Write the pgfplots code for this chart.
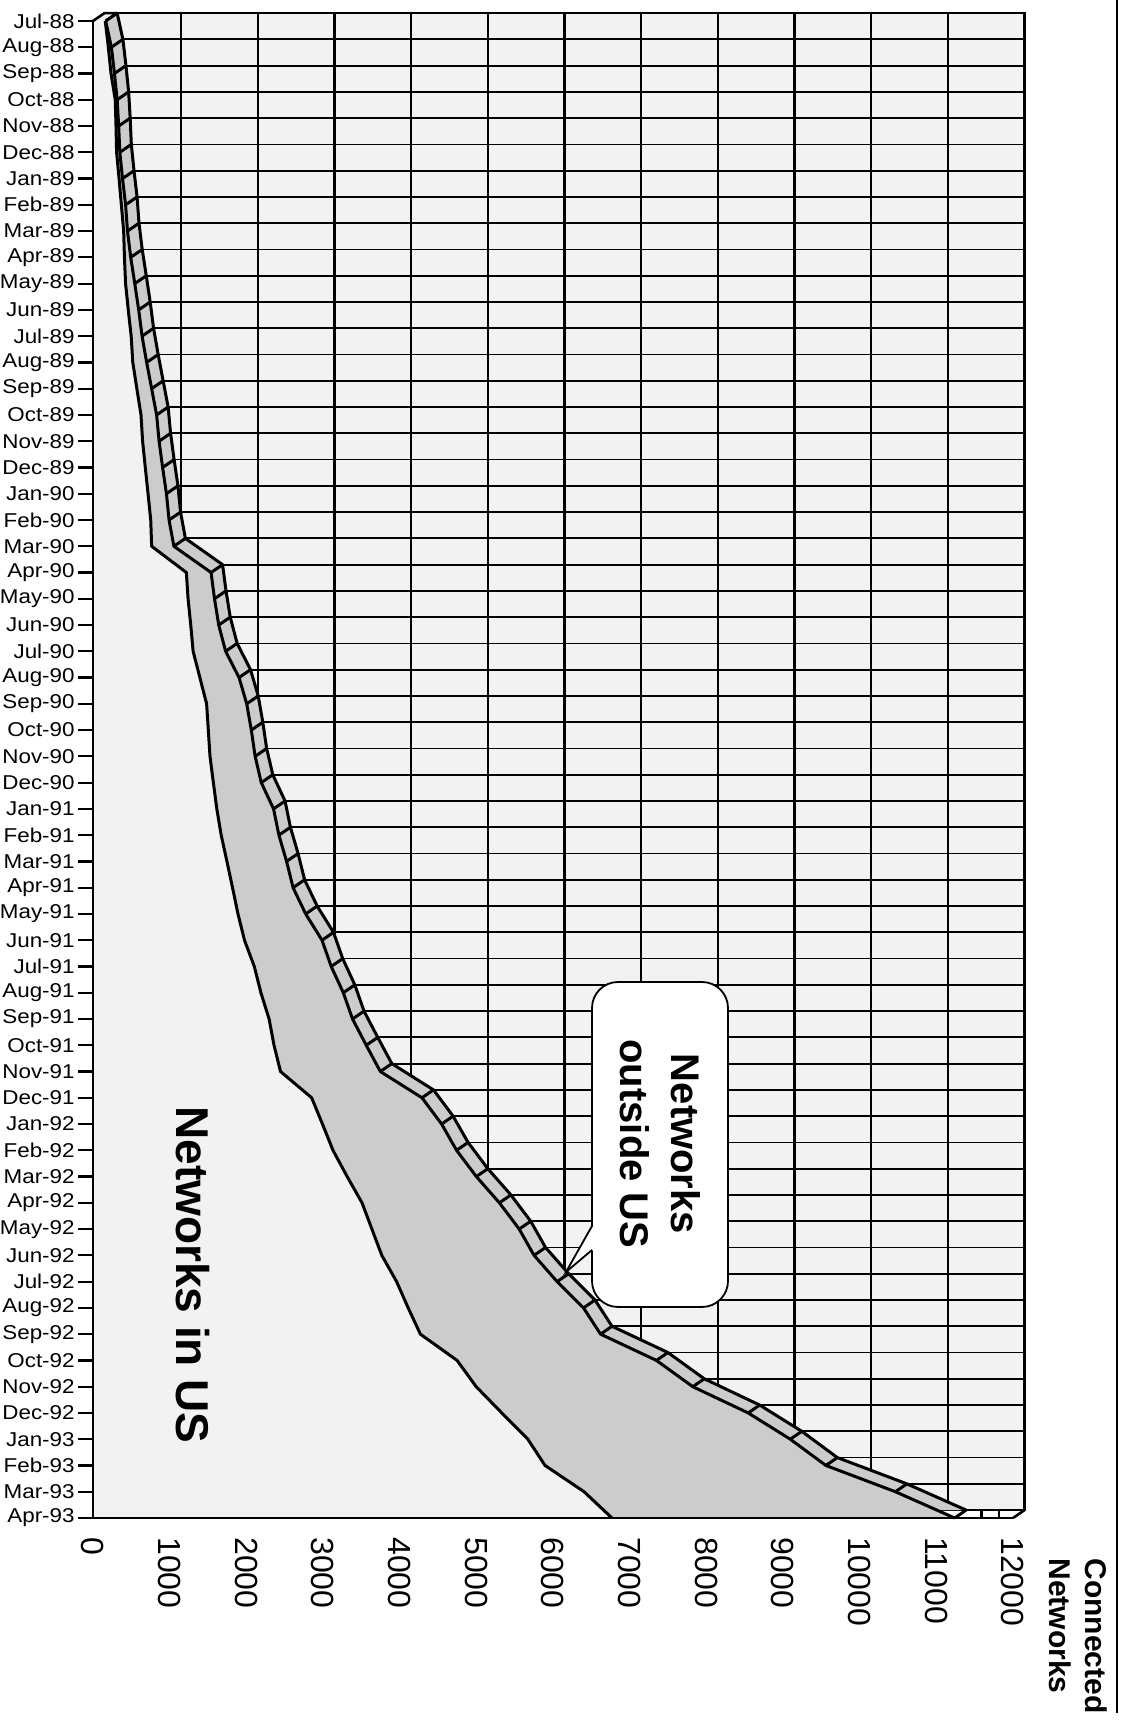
\documentclass[border=0pt]{standalone}
\usepackage{fontspec}
\setmainfont{Liberation Sans}
\usepackage{pgfplots}
\pgfplotsset{compat=1.18}
\usepackage{pgfplotstable}

\definecolor{wall}{HTML}{F2F2F2}
\definecolor{mid}{HTML}{CCCCCC}

% month index (0 = Jul-88), networks in US, networks outside US
\pgfplotstableread{
m us out
0 160 5
1 200 40
2 235 45
3 290 25
4 300 35
5 308 42
6 340 45
7 370 55
8 400 50
9 410 82
10 425 120
11 460 136
12 498 142
13 519 181
14 572 193
15 626 204
16 647 215
17 682 226
18 718 240
19 753 239
20 765 290
21 1218 322
22 1240 345
23 1275 365
24 1306 424
25 1394 511
26 1482 523
27 1504 561
28 1526 589
29 1570 625
30 1615 740
31 1672 753
32 1747 778
33 1820 790
34 1891 883
35 1976 1011
36 2104 1003
37 2190 1075
38 2297 1088
39 2361 1203
40 2446 1302
41 2852 1439
42 2993 1554
43 3130 1612
44 3315 1685
45 3509 1792
46 3638 1921
47 3767 1986
48 3960 2094
49 4111 2287
50 4270 2350
51 4749 2600
52 4998 2825
53 5332 3214
54 5672 3423
55 5896 3663
56 6405 4061
57 6769 4470
}\nets

\newcommand{\yl}[1]{\scalebox{1.12}[1]{#1}}
\tikzset{back/.style={xshift=5.75pt,yshift=3.94pt}}

\begin{document}
\begin{tikzpicture}
\begin{axis}[
  at={(0,0)}, anchor=south west,
  scale only axis, width=460pt, height=748.5pt,
  xmin=0, xmax=12000, ymin=-57, ymax=0,
  clip=false, axis on top,
  axis x line*=bottom, axis y line*=left,
  axis line style={line width=1.4pt},
  tick align=outside, major tick length=7.5pt,
  xtick={0,1000,...,12000}, xtick style={draw=none},
  scaled x ticks=false,
  /pgf/number format/1000 sep={},
  /pgf/number format/assume math mode=true,
  xticklabel style={font=\fontsize{16}{19}\selectfont, rotate=-90, anchor=west, inner sep=2pt},
  ytick={0,-1,...,-57}, ytick style={line width=1.1pt, black},
  yticklabel style={font=\fontsize{10}{11}\selectfont, inner sep=1.5pt},
  yticklabels={\yl{Jul-88},\yl{Aug-88},\yl{Sep-88},\yl{Oct-88},\yl{Nov-88},\yl{Dec-88},
    \yl{Jan-89},\yl{Feb-89},\yl{Mar-89},\yl{Apr-89},\yl{May-89},\yl{Jun-89},\yl{Jul-89},\yl{Aug-89},\yl{Sep-89},\yl{Oct-89},\yl{Nov-89},\yl{Dec-89},
    \yl{Jan-90},\yl{Feb-90},\yl{Mar-90},\yl{Apr-90},\yl{May-90},\yl{Jun-90},\yl{Jul-90},\yl{Aug-90},\yl{Sep-90},\yl{Oct-90},\yl{Nov-90},\yl{Dec-90},
    \yl{Jan-91},\yl{Feb-91},\yl{Mar-91},\yl{Apr-91},\yl{May-91},\yl{Jun-91},\yl{Jul-91},\yl{Aug-91},\yl{Sep-91},\yl{Oct-91},\yl{Nov-91},\yl{Dec-91},
    \yl{Jan-92},\yl{Feb-92},\yl{Mar-92},\yl{Apr-92},\yl{May-92},\yl{Jun-92},\yl{Jul-92},\yl{Aug-92},\yl{Sep-92},\yl{Oct-92},\yl{Nov-92},\yl{Dec-92},
    \yl{Jan-93},\yl{Feb-93},\yl{Mar-93},\yl{Apr-93}},
]
% back wall and its grid
\fill[wall, back] (axis cs:0,0) rectangle (axis cs:12000,-57);
\pgfplotsinvokeforeach{1,...,56}{
  \draw[back, line width=0.9pt] (axis cs:0,-#1) -- (axis cs:12000,-#1);
}
\pgfplotsinvokeforeach{1000,2000,...,11000}{
  \draw[back, line width=1.2pt] (axis cs:#1,0) -- (axis cs:#1,-57);
}
\draw[back, line width=1.3pt] (axis cs:0,0) -- (axis cs:12000,0) -- (axis cs:12000,-57) -- (axis cs:0,-57);
\draw[line width=1.3pt] (axis cs:12000,-57) -- ++(5.75pt,3.94pt);

% back edge of the stacked area (3D depth)
\addplot[fill=mid, draw=none] table[x expr=\thisrow{us}+\thisrow{out}+150, y expr=-\thisrow{m}+0.3] {\nets}
  -- (axis cs:150,-56.7) -- (axis cs:150,0.3) -- cycle;
% front: total (outside US on top of US), then US
\addplot[fill=mid, draw=none] table[x expr=\thisrow{us}+\thisrow{out}, y expr=-\thisrow{m}] {\nets}
  -- (axis cs:0,-57) -- (axis cs:0,0) -- cycle;
\addplot[fill=wall, draw=none] table[x=us, y expr=-\thisrow{m}] {\nets}
  -- (axis cs:0,-57) -- (axis cs:0,0) -- cycle;

% top end face
\filldraw[fill=wall, line width=1.3pt, line join=round] (axis cs:0,0) -- (axis cs:150,0.3) -- (axis cs:315,0.3) -- (axis cs:165,0);

% outlines
\addplot[black, line width=1.5pt, line join=round] table[x expr=\thisrow{us}+\thisrow{out}+150, y expr=-\thisrow{m}+0.3] {\nets};
\addplot[black, line width=1.5pt, line join=round] table[x expr=\thisrow{us}+\thisrow{out}, y expr=-\thisrow{m}] {\nets};
\addplot[black, line width=1.5pt, line join=round] table[x=us, y expr=-\thisrow{m}] {\nets};
\addplot[black, line width=1.5pt, quiver={u=150, v=0.3}, -] table[x expr=\thisrow{us}+\thisrow{out}, y expr=-\thisrow{m}] {\nets};

% floor strip segments
\draw[line width=1.1pt] (axis cs:11590,-57) -- ++(0pt,3.94pt);
\draw[line width=1.1pt] (axis cs:11815,-57) -- ++(0pt,3.94pt);
\end{axis}

\begin{scope}[x=0.5pt, y=-0.5pt, shift={(-46.5pt,759pt)}]
  \draw[line width=1.2pt] (1117,0) -- (1117,1713);
  \node[rotate=-90, font=\bfseries\fontsize{23}{28}\selectfont] at (193,1275) {Networks in US};
  \filldraw[fill=white, line width=0.9pt, rounded corners=13pt] (592,982) rectangle (728,1307);
  \fill[white] (593,1226) -- (566,1272) -- (593,1250) -- cycle;
  \draw[line width=0.9pt] (592,1226) -- (566,1272) -- (592,1250);
  \node[rotate=-90, align=center, font=\bfseries\fontsize{20}{25.5}\selectfont] at (660,1144) {Networks\\outside US};
  \node[rotate=-90, align=left, inner sep=0pt, font=\bfseries\fontsize{15}{18}\selectfont] at (1078,1636) {Connected\\Networks};
\end{scope}
\pgfresetboundingbox
\useasboundingbox (-46.5pt,-102pt) rectangle (514pt,759pt);
\end{tikzpicture}
\end{document}
